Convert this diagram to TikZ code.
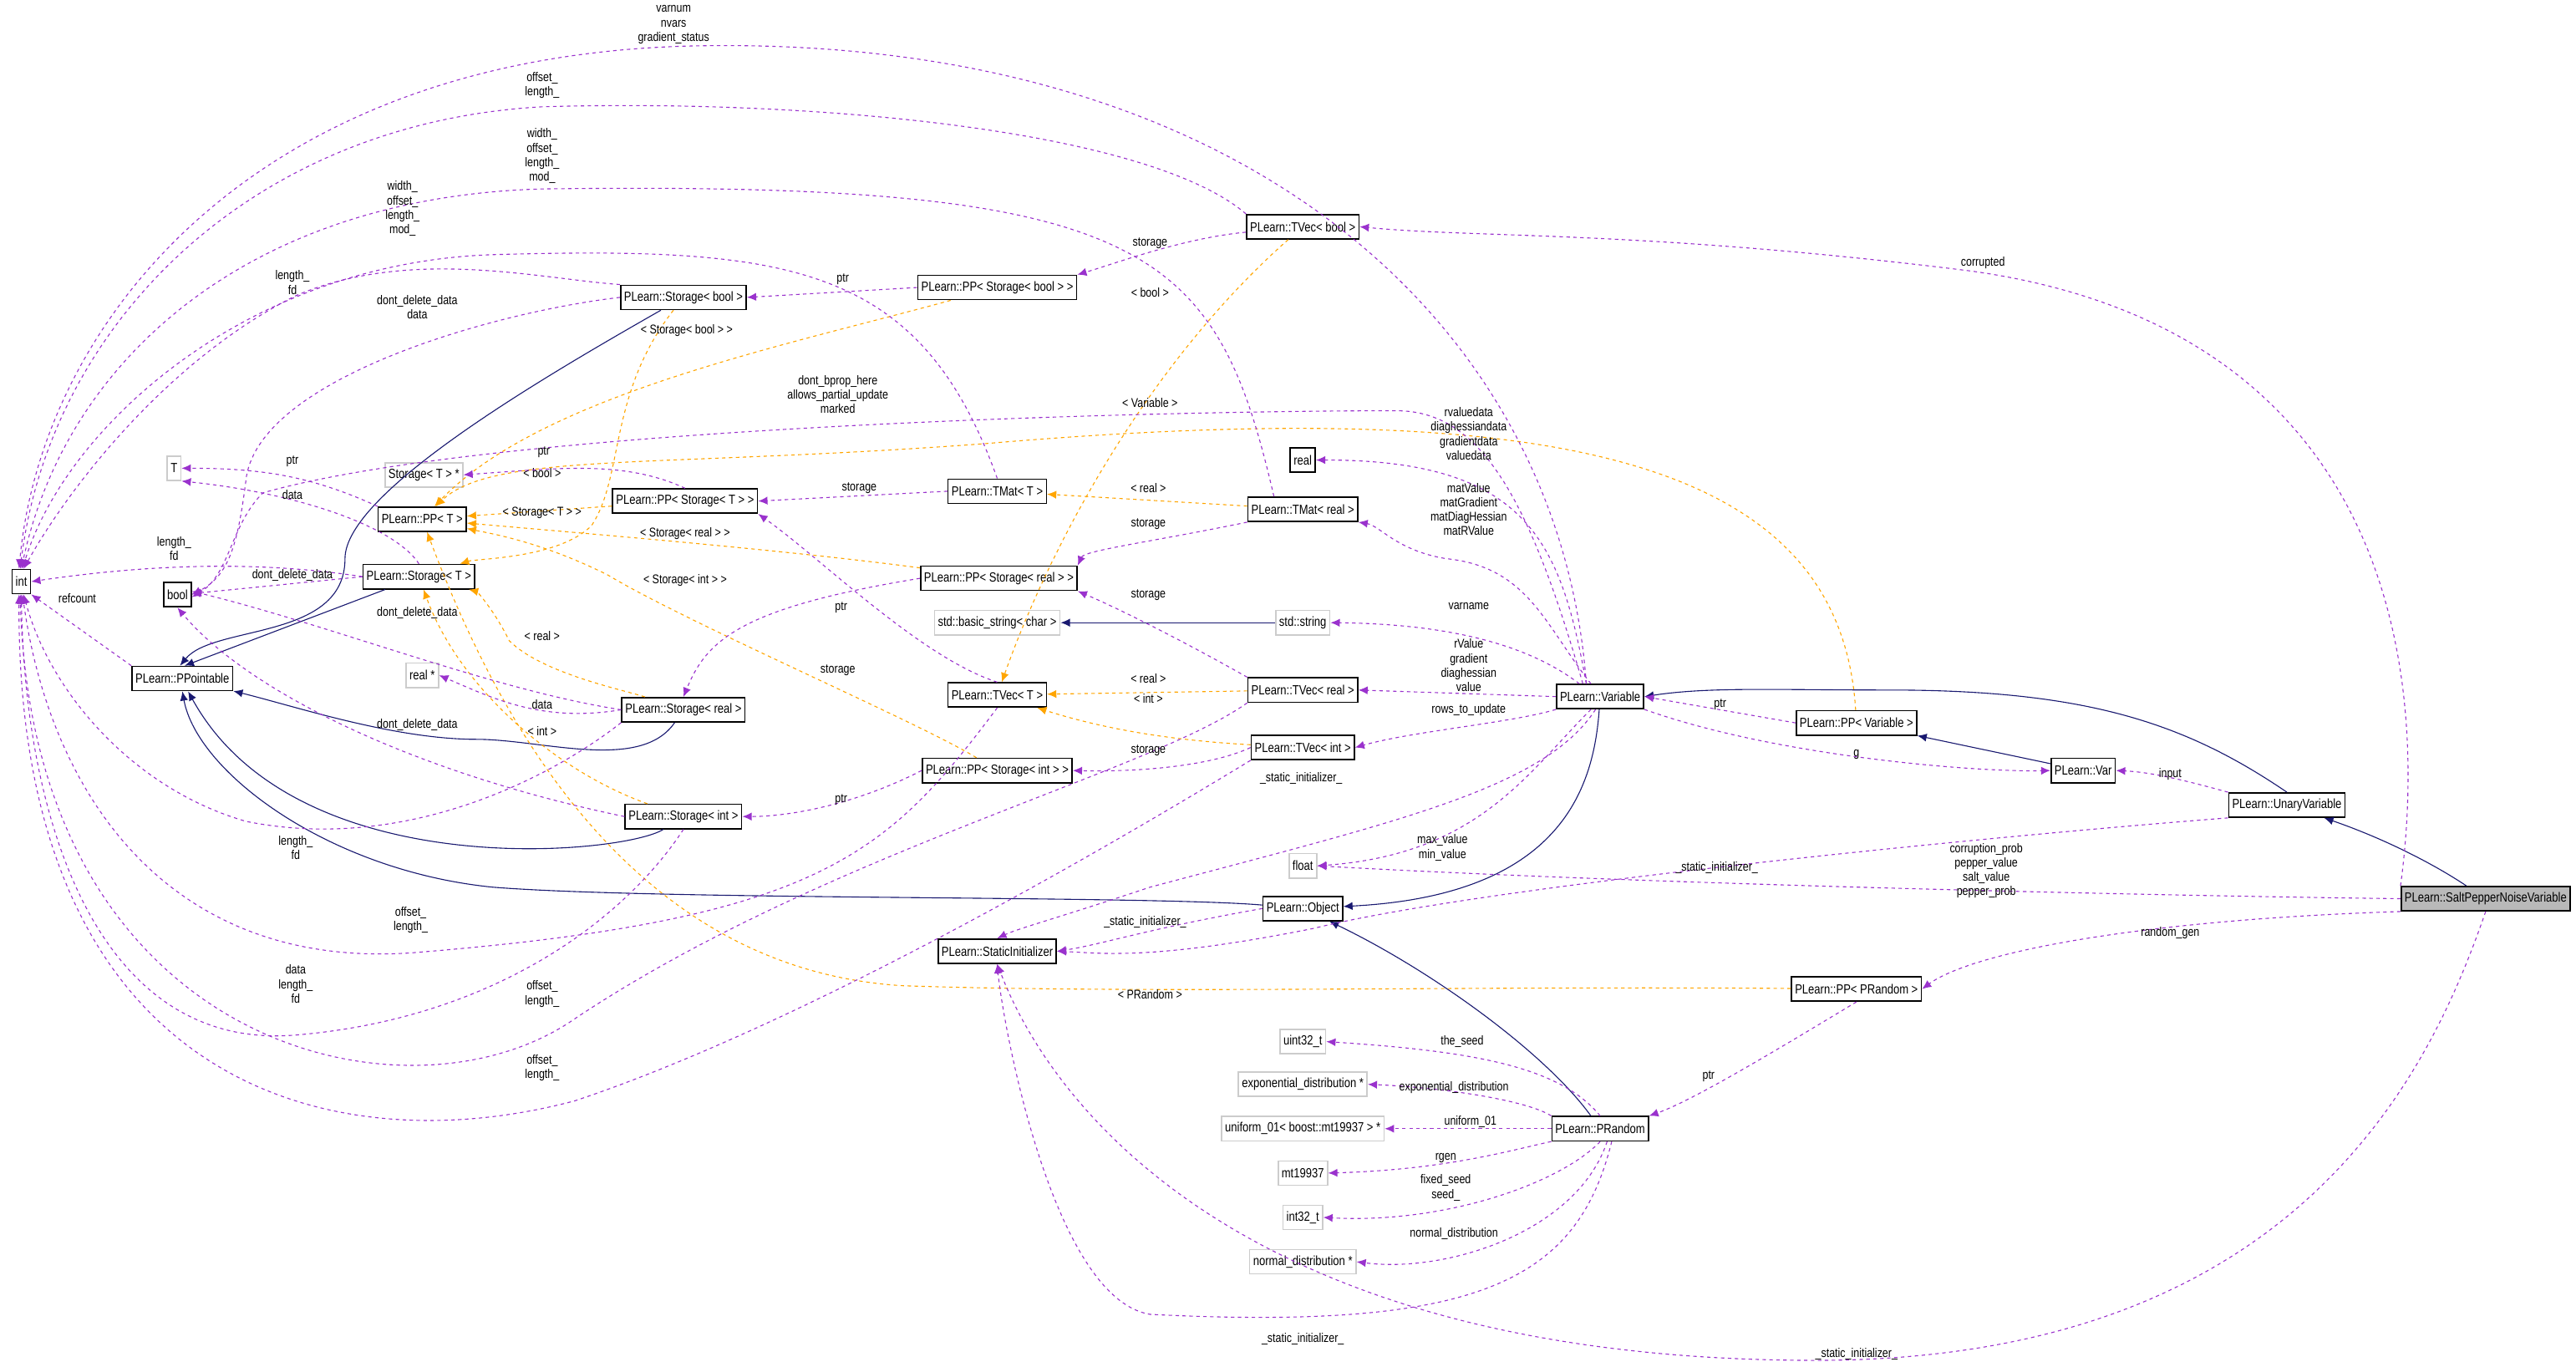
\documentclass[tikz,border=0pt]{standalone}
\usepackage{fontspec}
\setmainfont[FakeStretch=0.82]{Liberation Sans}
\usetikzlibrary{arrows.meta}
\definecolor{use}{RGB}{154,50,205}
\definecolor{inh}{RGB}{25,25,112}
\definecolor{tpl}{RGB}{255,165,0}
\tikzset{
 x=0.05cm,y=-0.05cm,
 box/.style={draw,very thick,fill=white,font=\fontsize{11.5}{12}\selectfont,inner xsep=3pt,inner ysep=0pt,minimum height=0.74cm},
 gbox/.style={box,draw=gray!40},
 sel/.style={box,fill=gray!55},
 lbl/.style={font=\fontsize{11}{12.5}\selectfont,align=center,inner sep=0pt},
 usee/.style={draw=use,dashed,thick,-{Latex[length=8pt,width=7pt]}},
 inhe/.style={draw=inh,thick,-{Latex[length=8pt,width=7pt]}},
 tple/.style={draw=tpl,dashed,thick,-{Latex[length=8pt,width=7pt]}},
}
\begin{document}
\begin{tikzpicture}
\useasboundingbox (0,0) rectangle (1568,832);
% nodes
\node[box] (int) at (13,354) {int};
\node[box] (bool) at (108,362) {bool};
\node[gbox] (T) at (106,285) {T};
\node[box] (ppt) at (111,413) {PLearn::PPointable};
\node[box] (stT) at (255,351) {PLearn::Storage< T >};
\node[box] (ppT) at (257,316) {PLearn::PP< T >};
\node[gbox] (stTp) at (258,289) {Storage< T > *};
\node[gbox] (realp) at (257,411) {real *};
\node[box] (stb) at (416,181) {PLearn::Storage< bool >};
\node[box] (str) at (416,432) {PLearn::Storage< real >};
\node[box] (sti) at (416,497) {PLearn::Storage< int >};
\node[box] (ppsb) at (607,175) {PLearn::PP< Storage< bool > >};
\node[box] (ppsT) at (417,305) {PLearn::PP< Storage< T > >};
\node[box] (ppsr) at (608,352) {PLearn::PP< Storage< real > >};
\node[box] (ppsi) at (607,469) {PLearn::PP< Storage< int > >};
\node[gbox] (bstr) at (607,379) {std::basic\_string< char >};
\node[box] (tmT) at (607,299) {PLearn::TMat< T >};
\node[box] (tvT) at (607,423) {PLearn::TVec< T >};
\node[box] (si) at (607,579) {PLearn::StaticInitializer};
\node[box] (tvb) at (793,138) {PLearn::TVec< bool >};
\node[box] (real) at (793,280) {real};
\node[box] (tmr) at (793,310) {PLearn::TMat< real >};
\node[gbox] (sstr) at (793,379) {std::string};
\node[box] (tvr) at (793,420) {PLearn::TVec< real >};
\node[box] (tvi) at (793,455) {PLearn::TVec< int >};
\node[gbox] (float) at (793,527) {float};
\node[box] (obj) at (793,553) {PLearn::Object};
\node[box] (var) at (974,424) {PLearn::Variable};
\node[box] (ppv) at (1130,440) {PLearn::PP< Variable >};
\node[box] (Var) at (1268,469) {PLearn::Var};
\node[box] (uv) at (1392,490) {PLearn::UnaryVariable};
\node[sel] (spn) at (1513,547) {PLearn::SaltPepperNoiseVariable};
\node[box] (pprand) at (1130,602) {PLearn::PP< PRandom >};
\node[box] (prand) at (974,687) {PLearn::PRandom};
\node[gbox] (u32) at (793,634) {uint32\_t};
\node[gbox] (expd) at (793,660) {exponential\_distribution *};
\node[gbox] (u01) at (793,687) {uniform\_01< boost::mt19937 > *};
\node[gbox] (mt) at (793,714) {mt19937};
\node[gbox] (i32) at (793,741) {int32\_t};
\node[gbox] (nd) at (793,768) {normal\_distribution *};

% inheritance
\draw[inhe] (stb) .. controls (330,230) and (210,300) .. (210,340) .. controls (210,390) and (130,380) .. ([xshift=-2pt]ppt.north);
\draw[inhe] (stT) -- ([xshift=2pt]ppt.north);
\draw[inhe] (str) .. controls (390,470) and (330,450) .. (290,450) .. controls (240,450) and (180,430) .. (ppt);
\draw[inhe] (sti) .. controls (380,520) and (180,540) .. ([xshift=5pt]ppt.south);
\draw[inhe] (obj) .. controls (700,545) and (400,548) .. (300,540) .. controls (200,530) and (120,470) .. (ppt.south);
\draw[inhe] (sstr) -- (bstr);
\draw[inhe] (var) .. controls (970,480) and (950,545) .. (obj);
\draw[inhe] (prand) .. controls (940,640) and (870,590) .. (obj);
\draw[inhe] (uv.north) .. controls (1330,440) and (1270,420) .. (1150,420) .. controls (1080,420) and (1040,418) .. (var.east);
\draw[inhe] (Var) -- (ppv);
\draw[inhe] (spn) .. controls (1480,525) and (1450,510) .. (uv);

% template instantiation
\draw[tple] (ppsb) .. controls (480,210) and (330,240) .. (ppT);
\draw[tple] (stb) .. controls (370,240) and (380,290) .. (360,320) .. controls (340,340) and (290,340) .. (stT);
\draw[tple] (ppv) .. controls (1120,280) and (950,240) .. (600,270) .. controls (400,285) and (300,275) .. (ppT);
\draw[tple] (ppsT) -- (ppT);
\draw[tple] (ppsr) .. controls (480,335) and (360,325) .. (ppT);
\draw[tple] (ppsi) .. controls (560,440) and (420,380) .. (370,350) .. controls (330,330) and (300,325) .. (ppT);
\draw[tple] (pprand) .. controls (900,600) and (700,605) .. (550,600) .. controls (380,590) and (300,430) .. (ppT);
\draw[tple] (tvb) .. controls (700,220) and (640,330) .. (tvT);
\draw[tple] (tmr) -- (tmT);
\draw[tple] (tvr) -- (tvT);
\draw[tple] (tvi) .. controls (700,450) and (660,440) .. (tvT);
\draw[tple] (str) .. controls (380,420) and (330,410) .. (310,390) .. controls (300,370) and (290,360) .. (stT);
\draw[tple] (sti) .. controls (340,470) and (280,420) .. (stT);
\node[lbl] at (418,201) {< Storage< bool > >};
\node[lbl] at (330,288) {< bool >};
\node[lbl] at (700,245) {< Variable >};
\node[lbl] at (330,312) {< Storage< T > >};
\node[lbl] at (417,325) {< Storage< real > >};
\node[lbl] at (417,353) {< Storage< int > >};
\node[lbl] at (700,605) {< PRandom >};
\node[lbl] at (700,178) {< bool >};
\node[lbl] at (699,297) {< real >};
\node[lbl] at (699,413) {< real >};
\node[lbl] at (699,425) {< int >};
\node[lbl] at (330,387) {< real >};
\node[lbl] at (330,445) {< int >};

% usage -> int
\draw[usee] ([xshift=-12pt]var.north) .. controls (950,200) and (760,20) .. (420,28) .. controls (150,35) and (25,200) .. ([xshift=-2pt]int.north);
\draw[usee] (tvb.north west) .. controls (700,80) and (500,60) .. (330,65) .. controls (150,75) and (30,200) .. ([xshift=-1pt]int.north);
\draw[usee] ([xshift=-25pt]tmr.north) .. controls (740,150) and (700,110) .. (330,115) .. controls (150,120) and (40,220) .. (int.north);
\draw[usee] (tmT.north) .. controls (560,160) and (480,150) .. (300,155) .. controls (150,160) and (40,260) .. ([xshift=1pt]int.north);
\draw[usee] (stb.north west) .. controls (330,170) and (250,150) .. (180,180) .. controls (100,220) and (40,300) .. ([xshift=2pt]int.north);
\draw[usee] (stT.west) .. controls (150,340) and (80,345) .. (int.east);
\draw[usee] (ppt.north west) -- (int.south east);
\draw[usee] (str.south west) .. controls (340,470) and (250,520) .. (150,500) .. controls (80,480) and (30,420) .. ([xshift=2pt]int.south);
\draw[usee] (tvT.south) .. controls (540,520) and (500,560) .. (250,580) .. controls (100,590) and (30,480) .. ([xshift=1pt]int.south);
\draw[usee] (sti.south) .. controls (380,560) and (300,620) .. (180,630) .. controls (60,640) and (15,500) .. (int.south);
\draw[usee] (tvr.south west) .. controls (700,470) and (500,520) .. (350,620) .. controls (250,690) and (20,640) .. ([xshift=-1pt]int.south);
\draw[usee] (tvi.south west) .. controls (700,500) and (500,620) .. (350,670) .. controls (200,710) and (10,660) .. ([xshift=-2pt]int.south);
\node[lbl] (l1) at (410,15) {varnum\\nvars\\gradient\_status};
\node[lbl] (l2) at (330,52) {offset\_\\length\_};
\node[lbl] (l3) at (330,95) {width\_\\offset\_\\length\_\\mod\_};
\node[lbl] (l4) at (245,127) {width\_\\offset\_\\length\_\\mod\_};
\node[lbl] (l5) at (178,172) {length\_\\fd};
\node[lbl] (l6) at (106,334) {length\_\\fd};
\node[lbl] (l7) at (47,364) {refcount};
\node[lbl] (l8) at (180,516) {length\_\\fd};
\node[lbl] (l9) at (250,560) {offset\_\\length\_};
\node[lbl] (l10) at (180,599) {data\\length\_\\fd};
\node[lbl] (l11) at (330,605) {offset\_\\length\_};
\node[lbl] (l12) at (330,650) {offset\_\\length\_};

% usage -> bool
\draw[usee] (stb.west) .. controls (300,190) and (160,230) .. (150,290) .. controls (145,330) and (140,350) .. (bool.east);
\draw[usee] ([xshift=-15pt]var.north) .. controls (930,300) and (900,250) .. (850,250) .. controls (700,250) and (300,260) .. (160,300) .. controls (140,320) and (140,350) .. ([yshift=-2pt]bool.east);
\draw[usee] (stT.west) -- ([yshift=1pt]bool.east);
\draw[usee] (str.west) .. controls (300,420) and (200,380) .. ([yshift=3pt]bool.east);
\draw[usee] (sti.west) .. controls (250,470) and (150,420) .. (bool.south);
\node[lbl] at (254,187) {dont\_delete\_data\\data};
\node[lbl] at (510,240) {dont\_bprop\_here\\allows\_partial\_update\\marked};
\node[lbl] at (178,350) {dont\_delete\_data};
\node[lbl] at (254,373) {dont\_delete\_data};
\node[lbl] at (254,441) {dont\_delete\_data};

% other usage
\draw[usee] (stT.north) .. controls (240,320) and (180,300) .. (T.south east);
\draw[usee] (ppT.north west) .. controls (190,290) and (160,285) .. (T.east);
\node[lbl] at (178,301) {data};
\node[lbl] at (178,281) {ptr};
\draw[usee] (ppsT.north) .. controls (380,280) and (340,285) .. (stTp.east);
\node[lbl] at (331,275) {ptr};
\draw[usee] (str.west) .. controls (330,440) and (300,425) .. (realp.east);
\node[lbl] at (330,429) {data};
\draw[usee] (ppsb.west) -- (stb.east);
\node[lbl] at (513,170) {ptr};
\draw[usee] (tvb) .. controls (720,145) and (680,160) .. (ppsb.north east);
\node[lbl] at (700,148) {storage};
\draw[usee] (tmT.west) -- (ppsT.east);
\node[lbl] at (523,297) {storage};
\draw[usee] (tvT.north) .. controls (560,400) and (500,340) .. (ppsT.south east);
\node[lbl] at (510,408) {storage};
\draw[usee] (tmr.south west) .. controls (700,330) and (660,335) .. (ppsr.north east);
\node[lbl] at (699,319) {storage};
\draw[usee] (tvr.north west) .. controls (720,390) and (680,370) .. (ppsr.south east);
\node[lbl] at (699,362) {storage};
\draw[usee] (ppsr.west) .. controls (450,370) and (430,390) .. (str.north);
\node[lbl] at (512,370) {ptr};
\draw[usee] (ppsi.west) .. controls (520,490) and (480,497) .. (sti.east);
\node[lbl] at (512,487) {ptr};
\draw[usee] (tvi.west) .. controls (740,465) and (700,470) .. (ppsi.east);
\node[lbl] at (699,457) {storage};
\draw[usee] ([xshift=-12pt]var.north) .. controls (950,330) and (930,280) .. (real.east);
\node[lbl] at (894,264) {rvaluedata\\diaghessiandata\\gradientdata\\valuedata};
\draw[usee] ([xshift=-8pt]var.north) .. controls (940,380) and (930,345) .. (880,340) .. controls (850,335) and (840,320) .. (tmr.south east);
\node[lbl] at (894,310) {matValue\\matGradient\\matDiagHessian\\matRValue};
\draw[usee] ([xshift=-18pt]var.north) .. controls (940,400) and (900,380) .. (sstr.east);
\node[lbl] at (894,369) {varname};
\draw[usee] (var.west) -- (tvr.east);
\node[lbl] at (894,405) {rValue\\gradient\\diaghessian\\value};
\draw[usee] (var.south west) .. controls (920,440) and (860,445) .. (tvi.east);
\node[lbl] at (894,432) {rows\_to\_update};
\draw[usee] ([xshift=-8pt]var.south) .. controls (930,470) and (900,520) .. (float.east);
\node[lbl] at (878,516) {max\_value\\min\_value};
\draw[usee] ([xshift=-4pt]var.south) .. controls (940,480) and (850,500) .. (700,540) .. controls (640,560) and (620,565) .. (si.north);
\node[lbl] at (792,474) {\_static\_initializer\_};
\draw[usee] (ppv.west) -- (var.east);
\node[lbl] at (1047,429) {ptr};
\draw[usee] (var.south east) .. controls (1080,460) and (1200,470) .. (Var.west);
\node[lbl] at (1130,459) {g};
\draw[usee] (uv.north west) .. controls (1330,475) and (1310,470) .. (Var.east);
\node[lbl] at (1321,471) {input};
\draw[usee] (spn.west) .. controls (1300,545) and (1000,538) .. (float.east);
\node[lbl] at (1209,530) {corruption\_prob\\pepper\_value\\salt\_value\\pepper\_prob};
\draw[usee] (uv.south west) .. controls (1200,510) and (900,540) .. (800,565) .. controls (700,585) and (670,580) .. (si.east);
\node[lbl] at (1045,528) {\_static\_initializer\_};
\draw[usee] (obj.west) .. controls (700,565) and (670,575) .. (si.east);
\node[lbl] at (697,561) {\_static\_initializer\_};
\draw[usee] (spn.south west) .. controls (1300,560) and (1200,580) .. (pprand.east);
\node[lbl] at (1321,568) {random\_gen};
\draw[usee] (spn.north west) .. controls (1480,400) and (1450,200) .. (1200,165) .. controls (1000,140) and (900,145) .. (tvb.east);
\node[lbl] at (1207,160) {corrupted};
\draw[usee] (spn.south) .. controls (1480,650) and (1400,830) .. (1100,828) .. controls (700,826) and (620,620) .. (si.south);
\node[lbl] at (1130,824) {\_static\_initializer\_};
\draw[usee] (pprand.south) .. controls (1080,640) and (1030,670) .. (prand.north east);
\node[lbl] at (1040,655) {ptr};
\draw[usee] (prand.north) .. controls (950,650) and (900,640) .. (u32.east);
\node[lbl] at (890,634) {the\_seed};
\draw[usee] (prand.north west) .. controls (930,670) and (880,662) .. (expd.east);
\node[lbl] at (885,662) {exponential\_distribution};
\draw[usee] (prand.west) -- (u01.east);
\node[lbl] at (895,683) {uniform\_01};
\draw[usee] (prand.south west) .. controls (920,700) and (880,712) .. (mt.east);
\node[lbl] at (880,705) {rgen};
\draw[usee] (prand.south) .. controls (950,720) and (880,745) .. (i32.east);
\node[lbl] at (880,723) {fixed\_seed\\seed\_};
\draw[usee] ([xshift=6pt]prand.south) .. controls (960,750) and (880,775) .. (nd.east);
\node[lbl] at (885,751) {normal\_distribution};
\draw[usee] ([xshift=10pt]prand.south) .. controls (960,780) and (900,810) .. (700,800) .. controls (640,790) and (610,620) .. (si.south);
\node[lbl] at (793,815) {\_static\_initializer\_};
\end{tikzpicture}
\end{document}
